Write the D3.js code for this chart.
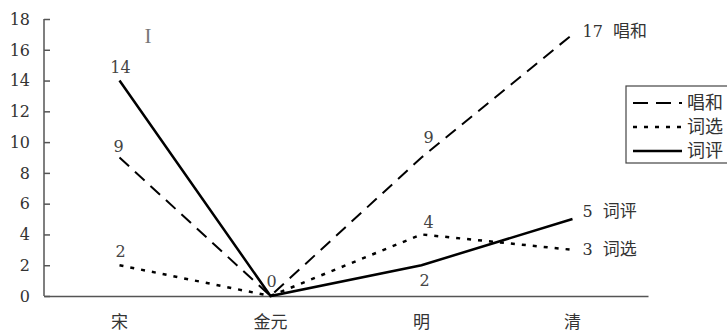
<!DOCTYPE html>
<html><head><meta charset="utf-8">
<script src="https://cdn.jsdelivr.net/npm/d3@7"></script>
<style>body{margin:0;background:#fff;}svg{display:block;}</style>
</head><body>
<svg id="c" width="727" height="333"></svg>
<script>
const categories = ["宋", "金元", "明", "清"];
const seriesNames = ["唱和", "词选", "词评"];
const changhe = [9, 0, 9, 17];
const cixuan = [2, 0, 4, 3];
const ciping = [14, 0, 2, 5];
const yTicks = [0, 2, 4, 6, 8, 10, 12, 14, 16, 18];

const serif = "'DejaVu Serif','Liberation Serif',serif";
const cjk = "'Noto Sans CJK SC','Noto Sans CJK JP',sans-serif";
const svg = d3.select("#c");
const x = d3.scaleBand().domain(categories).range([44, 648]);
const y = d3.scaleLinear().domain([0, 18]).range([296, 19]);
const cx = d => x(d) + x.bandwidth() / 2;

// y axis
const yAxis = svg.append("g").attr("transform", "translate(44,0)")
  .call(d3.axisRight(y).tickValues(yTicks).tickSize(6).tickFormat(""));
yAxis.select(".domain").attr("stroke", "#555").attr("stroke-width", 1.5).attr("d", "M0,19V296");
yAxis.selectAll(".tick line").attr("stroke", "#555").attr("stroke-width", 1.5);
svg.append("g").selectAll("text").data(yTicks).join("text")
  .attr("x", 30).attr("y", d => y(d)).attr("dy", "0.36em")
  .attr("text-anchor", "end").attr("font-family", serif).attr("font-size", 16)
  .attr("fill", "#333").text(d => d);

// x axis
const xAxis = svg.append("g").attr("transform", "translate(0,296)")
  .call(d3.axisBottom(x).tickSize(0).tickFormat(""));
xAxis.select(".domain").attr("stroke", "#555").attr("stroke-width", 1.5);
svg.append("g").selectAll("text").data(categories).join("text")
  .attr("x", d => cx(d)).attr("y", 322).attr("dy", "0.35em")
  .attr("text-anchor", "middle").attr("font-family", cjk).attr("font-size", 17)
  .attr("fill", "#333").text(d => d);

const series = [
  {name: seriesNames[0], vals: changhe, dash: "13,8", w: 2},
  {name: seriesNames[1], vals: cixuan, dash: "4,7", w: 2.5},
  {name: seriesNames[2], vals: ciping, dash: null, w: 2.5}
];
const line = d3.line().x((d, i) => cx(categories[i])).y(d => y(d));
series.forEach(s => {
  svg.append("path").attr("d", line(s.vals)).attr("fill", "none")
    .attr("stroke", "#000").attr("stroke-width", s.w)
    .attr("stroke-dasharray", s.dash);
});

// data labels
const lab = (xx, yy, t, anchor) => svg.append("text").attr("x", xx).attr("y", yy)
  .attr("text-anchor", anchor || "middle").attr("font-family", serif)
  .attr("font-size", 16).attr("fill", "#444").text(t);
// 宋
lab(cx(categories[0]) + 1, y(ciping[0]) - 8, ciping[0]);
lab(cx(categories[0]) - 1, y(changhe[0]) - 6, changhe[0]);
lab(cx(categories[0]) + 1, y(cixuan[0]) - 8, cixuan[0]);
// 金元
lab(cx(categories[1]) + 1, y(changhe[1]) - 9, changhe[1]);
// 明
lab(cx(categories[2]) + 7, y(changhe[2]) - 15, changhe[2]);
lab(cx(categories[2]) + 7, y(cixuan[2]) - 6, cixuan[2]);
lab(cx(categories[2]) + 3, y(ciping[2]) + 21, ciping[2]);
// 清 end labels
const endLab = (v, name, dy) => {
  const t = svg.append("text").attr("x", cx(categories[3]) + 10).attr("y", y(v) + dy)
    .attr("dy", "0.35em").attr("font-family", serif).attr("font-size", 16).attr("fill", "#333");
  t.append("tspan").text(v + " ");
  t.append("tspan").attr("font-family", cjk).attr("font-size", 17).attr("dx", 5).text(name);
};
endLab(changhe[3], seriesNames[0], -3);
endLab(ciping[3], seriesNames[2], -8);
endLab(cixuan[3], seriesNames[1], 0);

// cursor artifact
svg.append("text").attr("x", 148).attr("y", 43).attr("text-anchor", "middle")
  .attr("font-family", "'Liberation Serif',serif").attr("font-size", 21).attr("fill", "#777").text("I");

// legend
const lg = svg.append("g");
lg.append("rect").attr("x", 626).attr("y", 86).attr("width", 120).attr("height", 77)
  .attr("fill", "#fff").attr("stroke", "#444").attr("stroke-width", 1.2);
series.forEach((s, i) => {
  const yy = 103 + i * 24;
  lg.append("line").attr("x1", 633).attr("x2", 682).attr("y1", yy).attr("y2", yy)
    .attr("stroke", "#000").attr("stroke-width", s.w)
    .attr("stroke-dasharray", i === 0 ? "15,8" : (i === 1 ? "4,7" : null));
  lg.append("text").attr("x", 687).attr("y", yy).attr("dy", "0.35em")
    .attr("font-family", cjk).attr("font-size", 18).attr("fill", "#333").text(s.name);
});
</script>
</body></html>
